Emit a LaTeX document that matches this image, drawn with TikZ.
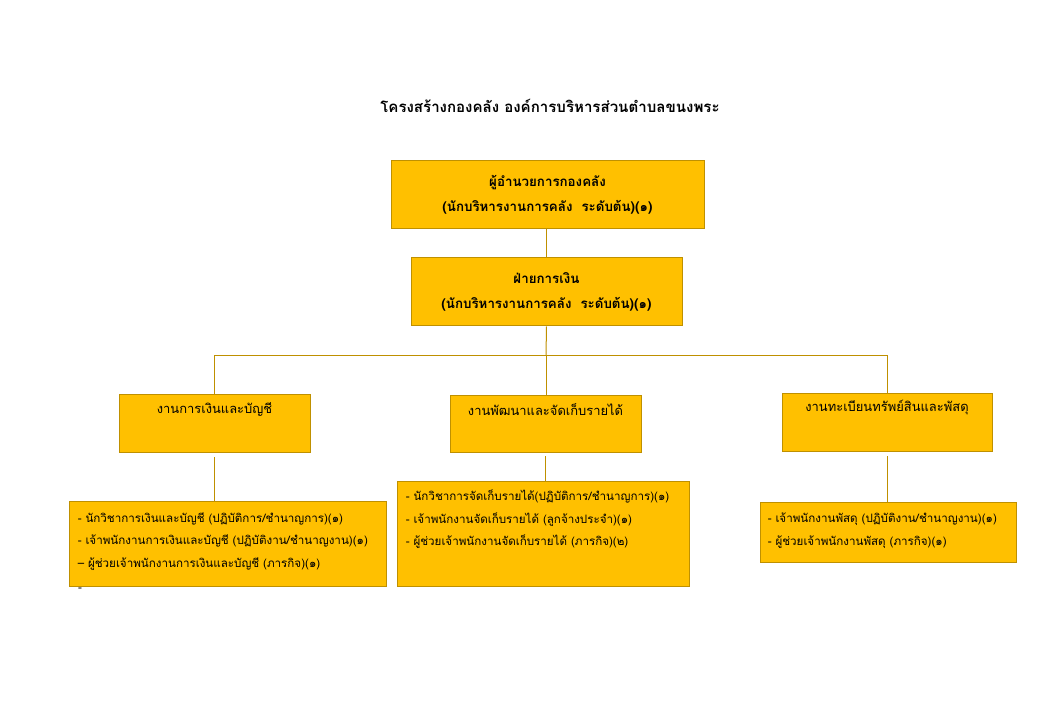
\documentclass[tikz,border=0pt]{standalone}
\usepackage{fontspec}
\usepackage{xcolor}
\newfontfamily\thaifont[Script=Thai]{Loma}
\usetikzlibrary{positioning}
\definecolor{boxfill}{HTML}{FFC000}
\definecolor{boxline}{HTML}{BF9000}

\begin{document}
\begin{tikzpicture}[x=0.75pt,y=-0.75pt,
	box/.style={draw=boxline,fill=boxfill,line width=0.75pt,inner sep=0pt},
	link/.style={draw=boxline,line width=0.75pt},
	head/.style={font=\thaifont\bfseries\fontsize{10}{18.75}\selectfont,align=center},
	sect/.style={font=\thaifont\fontsize{9.7}{12}\selectfont,inner sep=0pt},
	txt/.style={font=\thaifont\fontsize{8.7}{17}\selectfont,align=left,inner sep=0pt}]
			\useasboundingbox[fill=white] (0,0) rectangle (1040,720);
			
			\node[font=\thaifont\bfseries\fontsize{11.3}{14}\selectfont] (title) at (550,106) {โครงสร้างกองคลัง องค์การบริหารส่วนตำบลขนงพระ};
			
			% top of the chart
			\node[box,head,minimum width=234.75pt,minimum height=51pt] (dir) at (547.5,195) {ผู้อำนวยการกองคลัง\\(นักบริหารงานการคลัง~~ระดับต้น)(๑)};
			\node[box,head,minimum width=203.25pt,minimum height=51pt] (fin) at (546.5,292) {ฝ่ายการเงิน\\(นักบริหารงานการคลัง~~ระดับต้น)(๑)};
			\draw[link] (dir.south -| fin.north) -- (fin.north);
			
			% sections
			\node[box,minimum width=143.25pt,minimum height=43.5pt] (acc) at (214.5,424) {};
			\node[box,minimum width=143.25pt,minimum height=42.75pt] (rev) at (545.5,424.5) {};
			\node[box,minimum width=157.5pt,minimum height=43.5pt] (sup) at (887,423) {};
			\node[sect,below=5.5pt of acc.north] (acct) {งานการเงินและบัญชี};
			\node[sect,below=5.5pt of rev.north] (revt) {งานพัฒนาและจัดเก็บรายได้};
			\node[sect,below=4.5pt of sup.north] (supt) {งานทะเบียนทรัพย์สินและพัสดุ};
			
			\coordinate (bus) at (546,356);
			\draw[link] (fin.south) -- (bus);
			\draw[link] (acc.north) |- (bus);
			\draw[link] (sup.north) |- (bus);
			\draw[link] (bus) -- (bus |- rev.north);
			
			% staff
			\node[box,minimum width=237.75pt,minimum height=63pt] (accs) at (227.5,544) {};
			\node[box,minimum width=219pt,minimum height=78pt] (revs) at (543,534) {};
			\node[box,minimum width=192pt,minimum height=44.25pt] (sups) at (888,532.5) {};
			\node[txt,anchor=west] (accst) at ([xshift=6.75pt,yshift=2pt]accs.west) {- นักวิชาการเงินและบัญชี (ปฏิบัติการ/ชำนาญการ)(๑)\\- เจ้าพนักงานการเงินและบัญชี (ปฏิบัติงาน/ชำนาญงาน)(๑)\\– ผู้ช่วยเจ้าพนักงานการเงินและบัญชี (ภารกิจ)(๑)};
			\node[txt,anchor=north west] (revst) at ([xshift=6.75pt,yshift=-6pt]revs.north west) {- นักวิชาการจัดเก็บรายได้(ปฏิบัติการ/ชำนาญการ)(๑)\\- เจ้าพนักงานจัดเก็บรายได้ (ลูกจ้างประจำ)(๑)\\- ผู้ช่วยเจ้าพนักงานจัดเก็บรายได้ (ภารกิจ)(๒)};
			\node[txt,anchor=west] (supst) at ([xshift=6pt,yshift=1.5pt]sups.west) {- เจ้าพนักงานพัสดุ (ปฏิบัติงาน/ชำนาญงาน)(๑)\\- ผู้ช่วยเจ้าพนักงานพัสดุ (ภารกิจ)(๑)};
			\node[txt] (dash) at (80,590) {-};
			
			\draw[link,shorten <=3pt] (acc.south) -- (acc.south |- accs.north);
			\draw[link,shorten <=2pt] (rev.south) -- (rev.south |- revs.north);
			\draw[link,shorten <=3pt] (sup.south) -- (sup.south |- sups.north);
		\end{tikzpicture}
\end{document}
